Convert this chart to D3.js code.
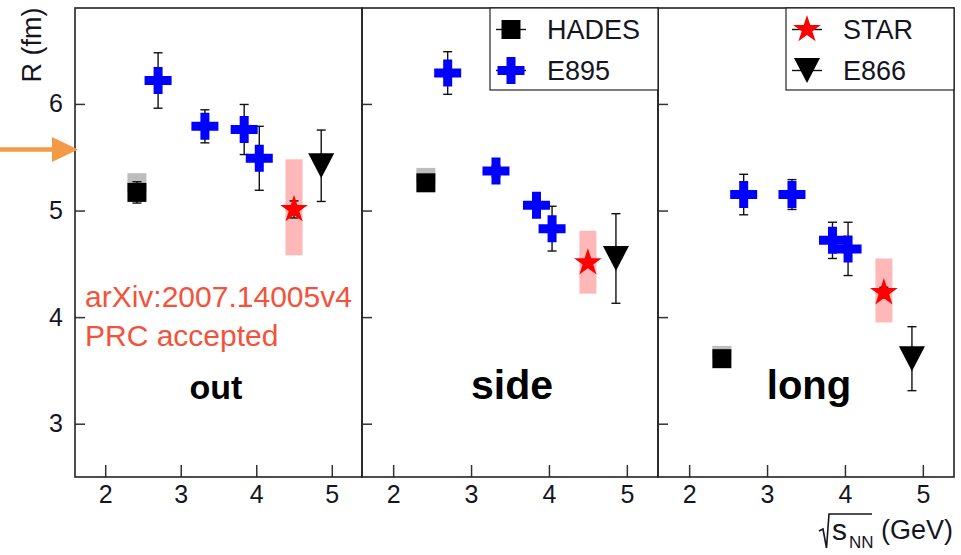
<!DOCTYPE html>
<meta charset="utf-8">
<title>HBT radii vs energy</title>
<script src="https://d3js.org/d3.v7.min.js"></script>
<style>
    body { margin: 0; background: #fff; }
    text { font-family: "Liberation Sans", Arial, sans-serif; }
</style>
<body>
<div id="chart"></div>
<script>
    // panel names
    var panels = ["out", "side", "long"];

    // HADES (square)
    var hadesX = 2.42;
    var hadesR = [5.17, 5.26, 3.61];
    var hadesErr = [0.1, 0.05, 0.03];
    var hadesSysHi = [5.35, 5.40, 3.73];

    // E895 (blue cross)
    var e895X = [2.7, 3.32, 3.84, 4.04];
    var e895R = [
        [6.22, 5.79, 5.76, 5.49],
        [6.29, 5.37, 5.05, 4.83],
        [5.15, 5.15, 4.72, 4.64]
    ];
    var e895Err = [
        [0.26, 0.155, 0.235, 0.3],
        [0.2, 0.05, 0.05, 0.21],
        [0.19, 0.14, 0.17, 0.25]
    ];

    // STAR (red star) with systematic band
    var starX = 4.5;
    var starR = [5.01, 4.51, 4.23];
    var starErr = [0.08, 0.02, 0.05];
    var starSysLo = [4.58, 4.22, 3.95];
    var starSysHi = [5.48, 4.81, 4.55];

    // E866 (down triangle)
    var e866X = 4.86;
    var e866R = [5.42, 4.55, 3.61];
    var e866Err = [0.335, 0.42, 0.3];

    var xTicks = [2, 3, 4, 5];
    var yTicks = [3, 4, 5, 6];

    // layout
    var width = 961, height = 555;
    var plotTop = 8, plotBottom = 477;
    var panelEdges = [[75, 362], [362, 658], [658, 954]];

    var svg = d3.select("#chart")
        .append("svg")
        .attr("width", width)
        .attr("height", height);

    var y = d3.scaleLinear().domain([2.5, 6.9]).range([plotBottom, plotTop]);

    var triPath = "M-13,-12.5L13,-12.5L0,12.5Z";
    var starSize = 240;

    function errorBar(g, xp, v, e) {
        g.append("line")
            .attr("x1", xp).attr("x2", xp)
            .attr("y1", y(v - e)).attr("y2", y(v + e))
            .attr("stroke", "#111").attr("stroke-width", 1.4);
        [v - e, v + e].forEach(function(c) {
            g.append("line")
                .attr("x1", xp - 4.5).attr("x2", xp + 4.5)
                .attr("y1", y(c)).attr("y2", y(c))
                .attr("stroke", "#111").attr("stroke-width", 1.4);
        });
    }

    panels.forEach(function(name, i) {
        var x = d3.scaleLinear().domain([1.6, 5.4]).range(panelEdges[i]);
        var g = svg.append("g");

        // axes, ticks pointing inwards
        var xa = g.append("g")
            .attr("transform", "translate(0," + plotBottom + ")")
            .call(d3.axisBottom(x).tickValues(xTicks).tickFormat(d3.format("d"))
                .tickSize(-12).tickSizeOuter(0).tickPadding(8));
        var ya = g.append("g")
            .attr("transform", "translate(" + panelEdges[i][0] + ",0)")
            .call(d3.axisLeft(y).tickValues(yTicks).tickFormat(d3.format("d"))
                .tickSize(-10).tickSizeOuter(0).tickPadding(12));
        if (i > 0) ya.selectAll("text").remove();
        [xa, ya].forEach(function(a) {
            a.select(".domain").remove();
            a.selectAll("line").attr("stroke", "#333").attr("stroke-width", 1.5);
            a.selectAll("text")
                .attr("fill", "#15151f")
                .style("font-size", "25px")
                .style("font-family", "Liberation Sans, Arial, sans-serif");
        });

        // frame
        g.append("rect")
            .attr("x", panelEdges[i][0]).attr("y", plotTop)
            .attr("width", panelEdges[i][1] - panelEdges[i][0])
            .attr("height", plotBottom - plotTop)
            .attr("fill", "none").attr("stroke", "#222").attr("stroke-width", 1.6);

        // systematic boxes
        g.append("rect")
            .attr("x", x(hadesX) - 9.5).attr("width", 19)
            .attr("y", y(hadesSysHi[i])).attr("height", y(hadesR[i]) - y(hadesSysHi[i]))
            .attr("fill", "#bdbdbd");
        g.append("rect")
            .attr("x", x(starX) - 8.5).attr("width", 17)
            .attr("y", y(starSysHi[i])).attr("height", y(starSysLo[i]) - y(starSysHi[i]))
            .attr("fill", "#ffb8b8");

        // error bars
        errorBar(g, x(hadesX), hadesR[i], hadesErr[i]);
        e895X.forEach(function(ex, j) { errorBar(g, x(ex), e895R[i][j], e895Err[i][j]); });
        errorBar(g, x(e866X), e866R[i], e866Err[i]);
        errorBar(g, x(starX), starR[i], starErr[i]);

        // markers
        g.append("path")
            .attr("d", d3.symbol().type(d3.symbolSquare).size(361))
            .attr("transform", "translate(" + x(hadesX) + "," + y(hadesR[i]) + ")")
            .attr("fill", "#000");
        g.selectAll(".e895")
            .data(e895X).enter()
            .append("path")
            .attr("d", d3.symbol().type(d3.symbolCross).size(405))
            .attr("transform", function(d, j) { return "translate(" + x(d) + "," + y(e895R[i][j]) + ")"; })
            .attr("fill", "#0000ff");
        g.append("path")
            .attr("d", d3.symbol().type(d3.symbolStar).size(starSize))
            .attr("transform", "translate(" + x(starX) + "," + y(starR[i]) + ")")
            .attr("fill", "#ff0000");
        g.append("path")
            .attr("d", triPath)
            .attr("transform", "translate(" + x(e866X) + "," + y(e866R[i]) + ")")
            .attr("fill", "#000");
    });

    // panel labels
    svg.append("text").attr("x", 216).attr("y", 399).attr("text-anchor", "middle")
        .style("font-size", "34px").style("font-weight", "bold").text("out");
    svg.append("text").attr("x", 512).attr("y", 399).attr("text-anchor", "middle")
        .style("font-size", "41px").style("font-weight", "bold").text("side");
    svg.append("text").attr("x", 809).attr("y", 399).attr("text-anchor", "middle")
        .style("font-size", "40px").style("font-weight", "bold").text("long");

    // arXiv note
    svg.append("text").attr("x", 85).attr("y", 307)
        .attr("fill", "#f4523a").style("font-size", "30px").text("arXiv:2007.14005v4");
    svg.append("text").attr("x", 85).attr("y", 346)
        .attr("fill", "#f4523a").style("font-size", "30px").text("PRC accepted");

    // legends
    function legend(x0, x1, items) {
        svg.append("rect")
            .attr("x", x0).attr("y", plotTop)
            .attr("width", x1 - x0).attr("height", 82)
            .attr("fill", "#fff").attr("stroke", "#222").attr("stroke-width", 1.2);
        items.forEach(function(it, k) {
            var cy = 29.5 + k * 41, cx = x0 + 21;
            svg.append("line")
                .attr("x1", cx - 15).attr("x2", cx + 15)
                .attr("y1", cy).attr("y2", cy)
                .attr("stroke", "#111").attr("stroke-width", 1.4);
            svg.append("path")
                .attr("d", it.d)
                .attr("transform", "translate(" + cx + "," + cy + ")")
                .attr("fill", it.color);
            svg.append("text")
                .attr("x", x0 + 57).attr("y", cy + 9.5)
                .attr("fill", "#15151f")
                .style("font-size", "27px").text(it.label);
        });
    }
    legend(490, 658, [
        {label: "HADES", color: "#000", d: d3.symbol().type(d3.symbolSquare).size(361)()},
        {label: "E895", color: "#0000ff", d: d3.symbol().type(d3.symbolCross).size(405)()}
    ]);
    legend(786, 954, [
        {label: "STAR", color: "#ff0000", d: d3.symbol().type(d3.symbolStar).size(starSize)()},
        {label: "E866", color: "#000", d: triPath}
    ]);

    // y axis title
    svg.append("text")
        .attr("transform", "translate(41,45) rotate(-90)")
        .attr("text-anchor", "middle")
        .attr("fill", "#15151f")
        .style("font-size", "27px").text("R (fm)");

    // x axis title with radical sign
    svg.append("path")
        .attr("d", "M819,531L823,529L826.5,548L829,514L872,514")
        .attr("fill", "none").attr("stroke", "#15151f").attr("stroke-width", 1.6);
    svg.append("text").attr("x", 832).attr("y", 540)
        .attr("fill", "#15151f").style("font-size", "30px").text("s");
    svg.append("text").attr("x", 849).attr("y", 548)
        .attr("fill", "#15151f").style("font-size", "17px").text("NN");
    svg.append("text").attr("x", 881).attr("y", 539)
        .attr("fill", "#15151f").style("font-size", "27px").text("(GeV)");

    // orange arrow
    svg.append("line")
        .attr("x1", 0).attr("x2", 55).attr("y1", 149.5).attr("y2", 149.5)
        .attr("stroke", "#f39a47").attr("stroke-width", 4.5);
    svg.append("path")
        .attr("d", "M52,137L78,149.5L52,162Z")
        .attr("fill", "#f39a47");
</script>
</body>
